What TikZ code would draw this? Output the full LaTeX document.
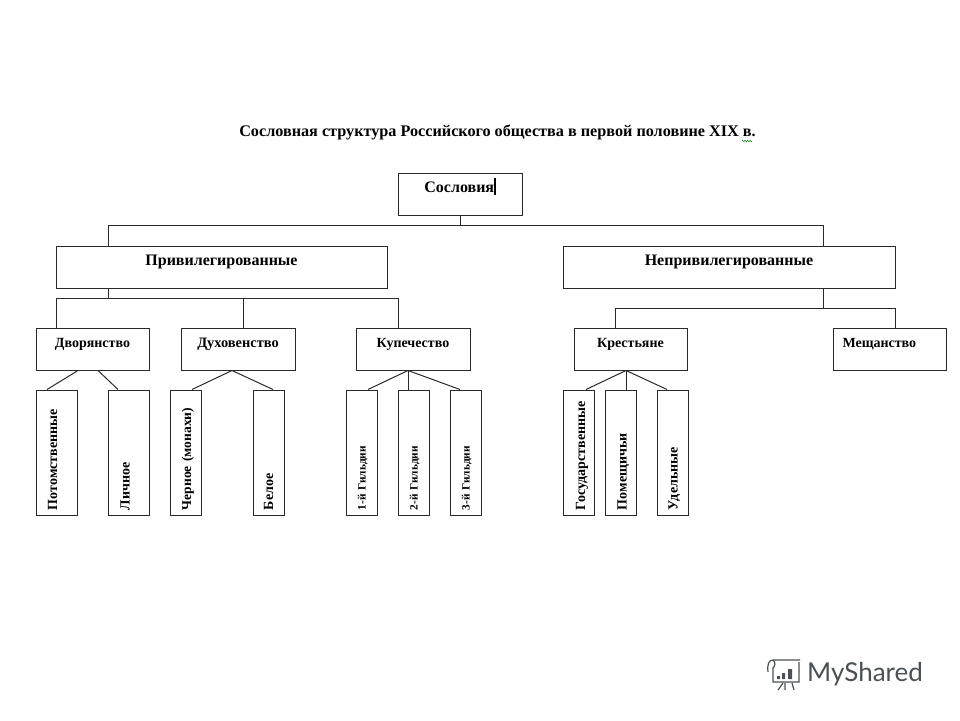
\documentclass[tikz,border=0pt]{standalone}
\usepackage{fontspec}
\setmainfont{Liberation Serif}
\newfontfamily\logofont{Lato}
\usetikzlibrary{positioning}
\usetikzlibrary{decorations.pathmorphing}
\definecolor{linegray}{HTML}{2A2A2A}
\definecolor{logogray}{HTML}{4A5053}
\tikzset{
  wide/.style={draw=linegray, line width=1pt, minimum width=#1, inner ysep=4pt, inner xsep=0pt,
    text height=15pt, text depth=19pt, font=\bfseries\fontsize{14}{16}\selectfont},
  bigger/.style={font=\bfseries\fontsize{16}{18}\selectfont},
  leaf/.style={draw=linegray, line width=1pt, rotate=90, minimum width=125pt, minimum height=#1,
    inner xsep=5pt, inner ysep=0pt, text width=115pt, align=left, text height=9pt, text depth=3pt,
    font=\bfseries\fontsize{14}{16}\selectfont},
  guild/.style={text height=11pt, font=\bfseries\fontsize{11.3}{13}\selectfont},
  link/.style={draw=linegray, line width=1pt},
}
\begin{document}
\begin{tikzpicture}[x=1pt,y=-1pt]
\useasboundingbox (0,0) rectangle (960,720);
\node[font=\bfseries\fontsize{16.2}{18}\selectfont] (title) at (497.5,132.5) {Сословная структура Российского общества в первой половине XIX в.};
\draw[green!50!black, line width=0.5pt, decorate, decoration={zigzag, amplitude=0.8pt, segment length=2.5pt}] (742,141) -- (752,141);
% top row
\node[wide=124pt, bigger] (sosl) at (460,194) {Сословия\rule[-3pt]{1.5pt}{17pt}};
\node[wide=331pt, bigger] (priv) at (221.5,267) {Привилегированные};
\node[wide=332pt, bigger] (nepriv) at (729,267) {Непривилегированные};
% second row
\node[wide=113pt] (dvor) at (92.5,349) {Дворянство};
\node[wide=114pt, font=\bfseries\fontsize{14.4}{16}\selectfont] (dukh) at (238,349) {Духовенство};
\node[wide=114pt] (kup) at (413,349) {Купечество};
\node[wide=113pt] (krest) at (630.5,349) {Крестьяне};
\node[wide=113pt, text width=94pt, align=left] (mesch) at (889.5,349) {Мещанство};
% leaves
\node[leaf=41pt, text depth=8pt] (potom) at (56.5,452.5) {Потомственные};
\node[leaf=41pt, text depth=7pt] (lich) at (128.5,452.5) {Личное};
\node[leaf=31pt, font=\bfseries\fontsize{13.5}{16}\selectfont, text height=14pt] (chern) at (185.5,452.5) {Черное (монахи)};
\node[leaf=31pt, text height=12pt] (bel) at (268.5,452.5) {Белое};
\node[leaf=31pt, guild] (g1) at (361.5,452.5) {1-й Гильдии};
\node[leaf=31pt, guild] (g2) at (413.5,452.5) {2-й Гильдии};
\node[leaf=31pt, guild] (g3) at (465.5,452.5) {3-й Гильдии};
\node[leaf=31pt, text height=16pt] (gos) at (578.5,452.5) {Государственные};
\node[leaf=31pt, text height=15pt] (pom) at (620.5,452.5) {Помещичьи};
\node[leaf=31pt, text height=13pt] (ud) at (672.5,452.5) {Удельные};
% buses
\coordinate (busa) at (108,225);
\coordinate (busb) at (823,225);
\coordinate (busc) at (108,298);
\coordinate (busd) at (56,298);
\coordinate (buse) at (398,298);
\coordinate (busf) at (823,308);
\coordinate (busg) at (615,308);
\coordinate (bush) at (895,308);
\draw[link] (sosl.south) -- (sosl.south |- busa);
\draw[link] (priv.north -| busa) -- (busa) -- (busb) -- (nepriv.north -| busb);
\draw[link] (priv.south -| busc) -- (busc);
\draw[link] (dvor.north -| busd) -- (busd) -- (buse) -- (kup.north -| buse);
\draw[link] (dukh.north -| 243,0) -- (243,298);
\draw[link] (nepriv.south -| busf) -- (busf);
\draw[link] (krest.north -| busg) -- (busg) -- (bush) -- (mesch.north -| bush);
% branches
\draw[link] (dvor.south -| 78,0) -- (potom.east -| 47,0);
\draw[link] (dvor.south -| 98,0) -- (lich.east -| 118,0);
\draw[link] (dukh.south -| 232,0) -- (chern.east -| 192,0);
\draw[link] (dukh.south -| 232,0) -- (bel.east -| 273,0);
\draw[link] (kup.south -| 408,0) -- (g1.east -| 368,0);
\draw[link] (kup.south -| 408,0) -- (g2.east -| 408,0);
\draw[link] (kup.south -| 408,0) -- (g3.east -| 460,0);
\draw[link] (krest.south -| 626,0) -- (gos.east -| 586,0);
\draw[link] (krest.south -| 626,0) -- (pom.east -| 626,0);
\draw[link] (krest.south -| 626,0) -- (ud.east -| 667,0);
% logo
\node[anchor=west, inner sep=0pt, text=logogray, font=\logofont\fontsize{26}{28}\selectfont] (logo) at (807,674) {MyShared};
\draw[logogray, line width=1.2pt] (768,672) .. controls (767,664) and (769,660) .. (773,660) -- (800,660);
\draw[logogray, line width=1.2pt] (773,660) .. controls (776,662) and (775,666) .. (773,668) -- (773,682) -- (799,682) -- (799,662);
\fill[logogray] (777,676) rectangle (780,679) (782,673) rectangle (785,679) (788,669) rectangle (792,679);
\draw[logogray, line width=1.2pt] (783,683) -- (778,690) (785,683) -- (785,690) (792,683) -- (794,690);
\end{tikzpicture}
\end{document}
